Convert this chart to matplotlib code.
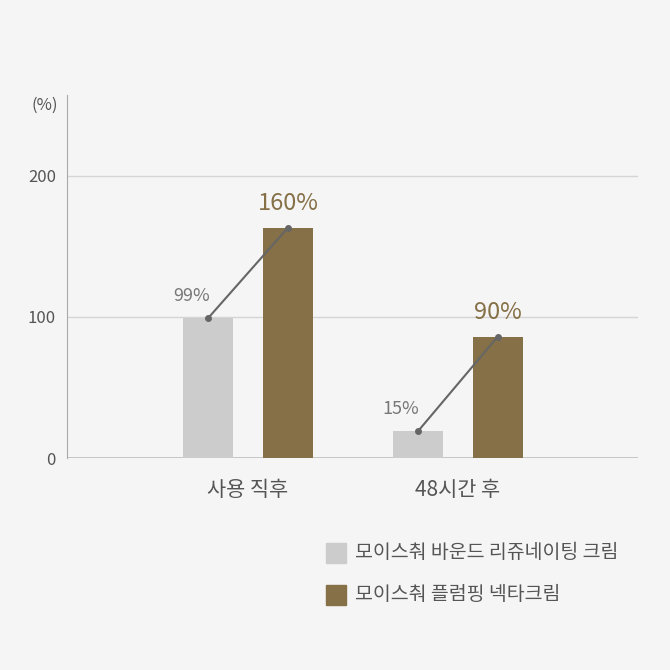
import matplotlib.pyplot as plt
import numpy as np

plt.rcParams['font.family'] = 'Noto Sans CJK KR'

# 데이터
categories = ['사용 직후', '48시간 후']
series_names = ['모이스춰 바운드 리쥬네이팅 크림', '모이스춰 플럼핑 넥타크림']
gray_values = [99, 19]
brown_values = [163, 86]
gray_labels = ['99%', '15%']
brown_labels = ['160%', '90%']
yticks = [0, 100, 200]

bg = '#f5f5f5'
gray = '#cccccc'
brown = '#857047'

fig = plt.figure(figsize=(6.7, 6.7), dpi=100, facecolor=bg)
ax = fig.add_axes([0.1, 0.3164, 0.852, 0.5418], facecolor=bg)

x = np.arange(len(categories))
w = 0.238
off = 0.19
ax.bar(x - off, gray_values, w, color=gray, zorder=2)
ax.bar(x + off, brown_values, w, color=brown, zorder=2)

for i in range(len(x)):
    ax.plot([x[i] - off, x[i] + off], [gray_values[i], brown_values[i]],
            color='#666666', lw=1.5, marker='o', ms=4, zorder=3)
    ax.text(x[i] - off - 0.08, gray_values[i] + 9, gray_labels[i], ha='center', va='bottom',
            fontsize=13, color='#777777')
    ax.text(x[i] + off, brown_values[i] + 9, brown_labels[i], ha='center', va='bottom',
            fontsize=17, color=brown)

ax.set_xlim(-0.862, 1.857)
ax.set_ylim(0, 257)
ax.set_yticks(yticks)
ax.set_yticklabels([str(v) for v in yticks], fontsize=12, color='#555555')
ax.set_xticks(x)
ax.set_xticklabels(categories, fontsize=15, color='#555555')
ax.tick_params(length=0, pad=15)
ax.tick_params(axis='y', pad=8)
ax.grid(axis='y', color='#d5d5d5', lw=1, zorder=0)
for s in ['top', 'right', 'bottom']:
    ax.spines[s].set_visible(False)
ax.spines['left'].set_color('#aaaaaa')
ax.axhline(0, color='#bbbbbb', lw=1.2, zorder=1)
fig.text(45 / 670, 1 - 105 / 670, '(%)', ha='center', va='center', fontsize=12, color='#555555')

# 범례
for j, (name, c) in enumerate(zip(series_names, [gray, brown])):
    yy = 1 - (553 + j * 42) / 670
    fig.patches.append(plt.Rectangle((326 / 670, yy - 10 / 670), 20 / 670, 20 / 670,
                                     transform=fig.transFigure, color=c))
    fig.text(355 / 670, yy, name, va='center', fontsize=14, color='#555555')

fig.savefig('out.png', dpi=100, facecolor=bg)
